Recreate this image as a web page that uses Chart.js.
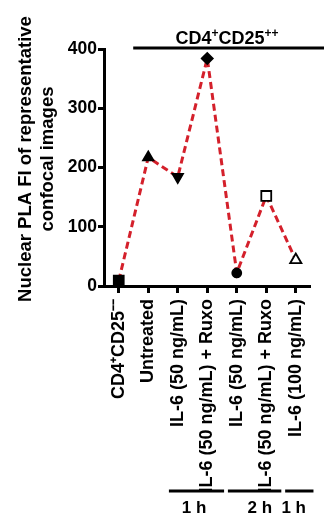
<!DOCTYPE html>
<html>
<head>
<meta charset="utf-8">
<script src="https://cdn.jsdelivr.net/npm/chart.js@4"></script>
<style>
  html, body { margin: 0; padding: 0; background: #fff; }
  #wrap { width: 324px; height: 523px; }
</style>
</head>
<body>
<div id="wrap"><canvas id="pla-chart" width="324" height="523"></canvas></div>
<script>
// chart values
const categories = [
  'CD4⁺CD25⁻⁻',
  'Untreated',
  'IL-6 (50 ng/mL)',
  'IL-6 (50 ng/mL) + Ruxo',
  'IL-6 (50 ng/mL)',
  'IL-6 (50 ng/mL) + Ruxo',
  'IL-6 (100 ng/mL)',
]
const plaValues = [9, 217, 184, 384, 22, 152, 44]
const yTicks = [0, 100, 200, 300, 400]
const yTitleLines = ['Nuclear PLA FI of representative', 'confocal images']
const groupLabels = ['1 h', '2 h', '1 h']
const titleParts = [['CD4', '+'], ['CD25', '++']]

// marker look per point
const markerStyles = ['rect', 'triangle', 'triangle', 'rectRot', 'circle', 'rect', 'triangle']
const markerRotation = [0, 0, 180, 0, 0, 0, 0]
const markerFill = ['#000', '#000', '#000', '#000', '#000', '#fff', '#fff']
const markerRadius = [7, 6, 6, 5.5, 4.5, 7, 6.5]

// bracket spans below the labels, in category units
const groupSpans = [[1.7, 3.57, 2.55], [3.7, 5.51, 4.78], [5.64, 6.6, 5.93]]

const FONT = "'Liberation Sans', Arial, sans-serif"

const extrasPlugin = {
  id: 'extras',
  afterDraw(chart) {
    const ctx = chart.ctx
    const x = chart.scales.x
    ctx.save()
    ctx.fillStyle = '#000'
    ctx.strokeStyle = '#000'
    ctx.lineWidth = 3

    // y axis title, two rotated lines
    ctx.save()
    ctx.font = 'bold 18.5px ' + FONT
    ctx.textAlign = 'center'
    ctx.textBaseline = 'alphabetic'
    ctx.translate(31, 159)
    ctx.rotate(-Math.PI / 2)
    ctx.fillText(yTitleLines[0], 0, 0)
    ctx.fillText(yTitleLines[1], 0, 22)
    ctx.restore()

    // header line + title
    const x0 = x.getPixelForValue(0.49)
    const x1 = chart.width
    ctx.beginPath()
    ctx.moveTo(x0, 48)
    ctx.lineTo(x1, 48)
    ctx.stroke()

    const big = 'bold 18px ' + FONT
    const small = 'bold 12px ' + FONT
    let total = 0
    titleParts.forEach(function (p) {
      ctx.font = big
      total += ctx.measureText(p[0]).width
      ctx.font = small
      total += ctx.measureText(p[1]).width
    })
    let tx = 227 - total / 2
    ctx.textBaseline = 'alphabetic'
    ctx.textAlign = 'left'
    titleParts.forEach(function (p) {
      ctx.font = big
      ctx.fillText(p[0], tx, 44)
      tx += ctx.measureText(p[0]).width
      ctx.font = small
      ctx.fillText(p[1], tx, 37)
      tx += ctx.measureText(p[1]).width
    })

    // time brackets
    ctx.font = 'bold 17px ' + FONT
    ctx.textAlign = 'center'
    groupSpans.forEach(function (s, i) {
      ctx.beginPath()
      ctx.moveTo(x.getPixelForValue(s[0]), 491)
      ctx.lineTo(Math.min(x.getPixelForValue(s[1]), chart.width), 491)
      ctx.stroke()
      ctx.fillText(groupLabels[i], x.getPixelForValue(s[2]), 513)
    })
    ctx.restore()
  },
}

const ctx = document.getElementById('pla-chart').getContext('2d')

const plaChart = new Chart(ctx, {
  type: 'line',
  data: {
    labels: categories,
    datasets: [
      {
        data: plaValues,
        borderColor: '#d4202b',
        borderWidth: 3,
        borderDash: [7, 4],
        tension: 0,
        fill: false,
        pointStyle: markerStyles,
        pointRotation: markerRotation,
        pointRadius: markerRadius,
        pointBackgroundColor: markerFill,
        pointBorderColor: '#000',
        pointBorderWidth: 1.8,
        clip: false,
      },
    ],
  },
  options: {
    responsive: false,
    animation: false,
    layout: { padding: { top: 49, right: 0, bottom: 0, left: 0 } },
    scales: {
      x: {
        type: 'category',
        offset: true,
        afterFit: function (scale) {
          scale.height = 523 - 286
        },
        border: { display: true, color: '#000', width: 3 },
        grid: {
          display: true,
          drawOnChartArea: false,
          drawTicks: true,
          tickLength: 7,
          tickWidth: 3,
          tickColor: '#000',
          offset: false,
        },
        ticks: {
          autoSkip: false,
          maxRotation: 90,
          minRotation: 90,
          padding: 6,
          color: '#000',
          font: { family: FONT, size: 18, weight: 'bold' },
        },
      },
      y: {
        min: 0,
        max: 400,
        afterFit: function (scale) {
          scale.width = 104
        },
        afterBuildTicks: function (scale) {
          scale.ticks = yTicks.map(function (v) {
            return { value: v }
          })
        },
        border: { display: true, color: '#000', width: 3 },
        grid: {
          display: true,
          drawOnChartArea: false,
          drawTicks: true,
          tickLength: 6,
          tickWidth: 3,
          tickColor: '#000',
        },
        ticks: {
          padding: 1,
          color: '#000',
          font: { family: FONT, size: 17.5, weight: 'bold' },
        },
      },
    },
    plugins: {
      legend: { display: false },
      tooltip: { enabled: false },
    },
  },
  plugins: [extrasPlugin],
})
</script>
</body>
</html>
